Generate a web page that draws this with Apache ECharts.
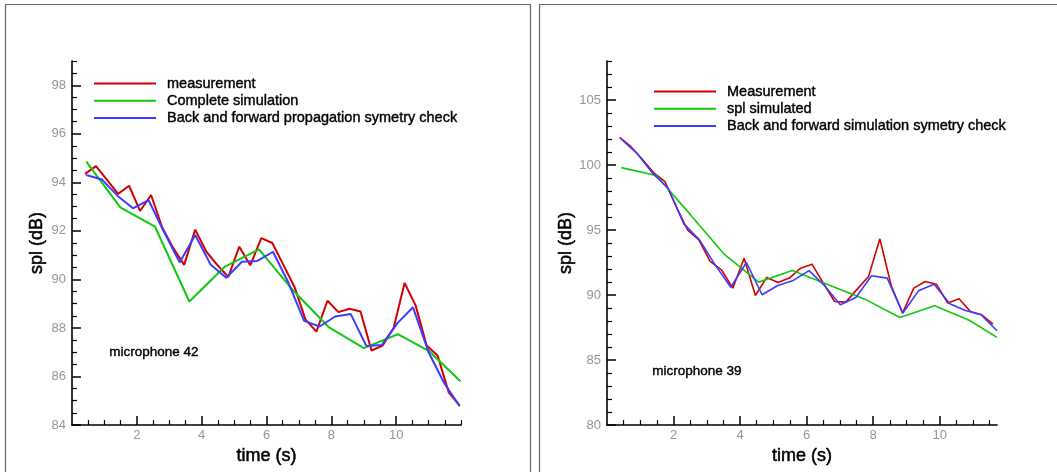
<!DOCTYPE html>
<html>
<head>
<meta charset="utf-8">
<script src="https://cdn.jsdelivr.net/npm/echarts@6/dist/echarts.min.js"></script>
<style>
html,body{margin:0;padding:0;background:#fff;}
#chart{width:1057px;height:472px;}
</style>
</head>
<body>
<div id="chart"></div>
<script>
// ---------- data: microphone 42 (left) ----------
var measX42 = [0.40,0.74,1.08,1.42,1.76,2.10,2.44,2.78,3.12,3.46,3.80,4.14,4.48,4.82,5.16,5.50,5.84,6.18,6.52,6.86,7.20,7.54,7.88,8.22,8.56,8.90,9.24,9.58,9.92,10.26,10.60,10.94,11.28,11.62,11.96];
var measY42 = [94.35,94.67,94.1,93.52,93.86,92.82,93.48,92.15,91.3,90.6,92.05,91.15,90.6,90.1,91.35,90.58,91.7,91.5,90.6,89.7,88.35,87.85,89.12,88.65,88.79,88.68,87.07,87.27,88.0,89.85,88.93,87.28,86.85,85.35,84.8];
var simX42 = [0.44,1.49,2.56,3.62,4.72,5.77,6.85,7.93,9.0,10.05,11.03,11.98];
var simY42 = [94.85,92.97,92.17,89.09,90.53,91.24,89.5,88.02,87.17,87.74,87.03,85.8];
var fbX42 = [0.44,0.92,1.40,1.88,2.36,2.84,3.32,3.80,4.28,4.76,5.24,5.72,6.20,6.68,7.16,7.64,8.12,8.60,9.08,9.56,10.04,10.52,11.00,11.48,11.96];
var fbY42 = [94.3,94.12,93.45,92.93,93.27,91.95,90.7,91.83,90.6,90.07,90.73,90.76,91.14,89.85,88.29,88.06,88.47,88.57,87.26,87.3,88.2,88.85,87.0,85.73,84.77];

// ---------- data: microphone 39 (right) ----------
var measX39 = [0.38,0.72,1.06,1.40,1.74,2.08,2.42,2.76,3.10,3.44,3.78,4.12,4.46,4.80,5.14,5.48,5.82,6.16,6.50,6.84,7.18,7.52,7.86,8.20,8.54,8.88,9.22,9.56,9.90,10.24,10.58,10.92,11.26,11.60];
var measY39 = [102.13,101.41,100.44,99.42,98.72,96.8,95.01,94.24,92.58,91.94,90.53,92.83,89.96,91.35,90.96,91.3,92.06,92.37,90.91,89.5,89.45,90.45,91.42,94.32,90.73,88.61,90.53,91.04,90.83,89.38,89.71,88.73,88.48,87.76];
var simX39 = [0.43,1.48,2.50,3.51,4.56,5.57,6.65,7.75,8.80,9.85,10.90,11.72];
var simY39 = [99.8,99.19,96.2,93.17,90.99,91.89,90.78,89.68,88.27,89.17,88.04,86.74];
var fbX39 = [0.43,0.90,1.37,1.84,2.31,2.78,3.25,3.72,4.19,4.66,5.13,5.60,6.07,6.54,7.01,7.48,7.95,8.42,8.89,9.36,9.83,10.30,10.77,11.24,11.72];
var fbY39 = [101.98,100.9,99.36,98.21,95.47,94.24,92.32,90.6,92.5,90.02,90.73,91.12,91.88,90.71,89.25,89.81,91.48,91.3,88.61,90.32,90.83,89.32,88.81,88.48,87.25];

// ---------- tick labels ----------
var xTicks = [2,4,6,8,10];
var yTicks42 = [84,86,88,90,92,94,96,98];
var yTicks39 = [80,85,90,95,100,105];

var names42 = ['measurement','Complete simulation','Back and forward propagation symetry check'];
var names39 = ['Measurement','spl simulated','Back and forward simulation symetry check'];
var micLabels = ['microphone 42','microphone 39'];

// ---------- helpers ----------
function zip(xs, ys){ var o=[]; for(var i=0;i<xs.length;i++){o.push([xs[i],ys[i]]);} return o; }
function steps(a,b,s,skip){ var o=[]; for(var v=a; v<=b+1e-9; v+=s){ var r=Math.round(v*100)/100; if(skip.indexOf(r)<0) o.push(r);} return o; }

var FONT = "'Liberation Sans', Arial, Helvetica, sans-serif";
var RED='#d20000', GREEN='#12c812', BLUE='#3c3cff';

function majorAxis(grid, min, max, ticks, pos, name, gap){
  return {
    type:'value', gridIndex:grid, min:min, max:max, position:pos,
    splitLine:{show:false},
    axisLine:{show:true, onZero:false, lineStyle:{color:'#000', width:1.6}},
    axisTick:{show:true, inside:true, length:9, customValues:ticks, lineStyle:{color:'#000', width:1.5}},
    axisLabel:{show:true, customValues:ticks, color:'#959595', fontSize:13, fontFamily:FONT, margin:(pos==='left'?6:4)},
    name:name, nameLocation:'middle', nameGap:gap,
    nameTextStyle:{color:'#000', fontSize:18, fontFamily:FONT, textBorderColor:'#000', textBorderWidth:0.5}
  };
}
function minorAxis(grid, min, max, ticks, pos){
  return {
    type:'value', gridIndex:grid, min:min, max:max, position:pos,
    splitLine:{show:false},
    axisLine:{show:false, onZero:false},
    axisTick:{show:true, inside:true, length:5, customValues:ticks, lineStyle:{color:'#000', width:1.2}},
    axisLabel:{show:false}
  };
}
function lineSeries(name, xi, yi, xs, ys, color, w){
  return {type:'line', name:name, xAxisIndex:xi, yAxisIndex:yi, data:zip(xs,ys),
    showSymbol:false, symbol:'none', lineStyle:{color:color, width:w}, itemStyle:{color:color}};
}
function legendFor(names, left, top){
  return {data:names, orient:'vertical', left:left, top:top, padding:0, icon:'rect', itemWidth:62, itemHeight:2, itemGap:0,
    selectedMode:false,
    textStyle:{color:'#000', fontSize:14.5, fontFamily:FONT, lineHeight:17.2, padding:[0,0,0,6],
      textBorderColor:'#000', textBorderWidth:0.4}};
}

var chart = echarts.init(document.getElementById('chart'), null, {renderer:'canvas'});
chart.setOption({
  animation:false,
  backgroundColor:'#fff',
  grid:[
    {left:72, top:61, width:389, height:364},
    {left:607, top:61, width:390, height:364}
  ],
  xAxis:[
    majorAxis(0, 0, 12, xTicks, 'bottom', 'time (s)', 7),
    minorAxis(0, 0, 12, steps(0.5, 12, 0.5, xTicks), 'bottom'),
    majorAxis(1, 0, 11.72, xTicks, 'bottom', 'time (s)', 7),
    minorAxis(1, 0, 11.72, steps(0.5, 11.5, 0.5, xTicks), 'bottom')
  ],
  yAxis:[
    majorAxis(0, 84, 99, yTicks42, 'left', 'spl (dB)', 26),
    minorAxis(0, 84, 99, steps(84.5, 99, 0.5, yTicks42), 'left'),
    majorAxis(1, 80, 108, yTicks39, 'left', 'spl (dB)', 30),
    minorAxis(1, 80, 108, steps(81, 108, 1, yTicks39), 'left')
  ],
  legend:[ legendFor(names42, 94, 75), legendFor(names39, 654, 83) ],
  series:[
    lineSeries(names42[0], 0, 0, measX42, measY42, RED, 2),
    lineSeries(names42[1], 0, 0, simX42, simY42, GREEN, 2),
    lineSeries(names42[2], 0, 0, fbX42, fbY42, BLUE, 2),
    lineSeries(names39[0], 2, 2, measX39, measY39, RED, 1.6),
    lineSeries(names39[1], 2, 2, simX39, simY39, GREEN, 1.6),
    lineSeries(names39[2], 2, 2, fbX39, fbY39, BLUE, 1.6)
  ],
  graphic:[
    {type:'polyline', silent:true, shape:{points:[[5.5,472],[5.5,4.5],[530.5,4.5],[530.5,472]]}, style:{stroke:'#666', fill:null, lineWidth:1.2}},
    {type:'polyline', silent:true, shape:{points:[[539.5,472],[539.5,4.5],[1057,4.5]]}, style:{stroke:'#666', fill:null, lineWidth:1.2}},
    {type:'text', left:109, top:345, silent:true, style:{text:micLabels[0], fill:'#000', fontSize:13.5, fontFamily:FONT, stroke:'#000', lineWidth:0.4}},
    {type:'text', left:652, top:364, silent:true, style:{text:micLabels[1], fill:'#000', fontSize:13.5, fontFamily:FONT, stroke:'#000', lineWidth:0.4}}
  ]
});
</script>
</body>
</html>
